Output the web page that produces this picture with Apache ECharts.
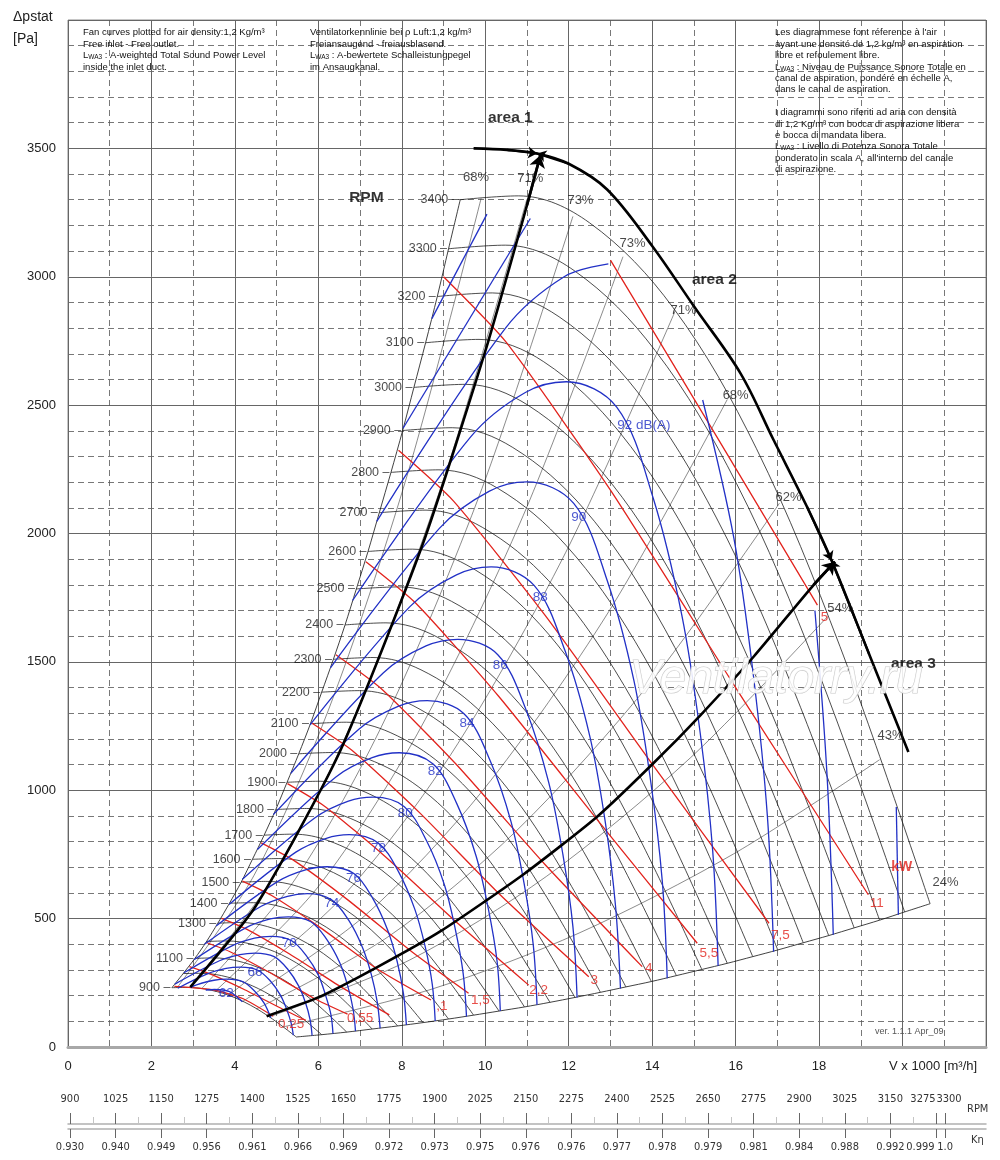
<!DOCTYPE html>
<html><head><meta charset="utf-8">
<script src="https://cdn.jsdelivr.net/npm/echarts@6/dist/echarts.min.js"></script>
<style>html,body{margin:0;padding:0;background:#fff}#c{width:1000px;height:1160px}</style>
</head><body><div id="c"></div>
<script>
// ---------- RPM curves (V x1000 m3/h, Pa) ----------
const rpmValues = [900,1000,1100,1200,1300,1400,1500,1600,1700,1800,1900,2000,2100,2200,2300,2400,2500,2600,2700,2800,2900,3000,3100,3200,3300,3400];
const rpmLabeled = [900,1100,1300,1400,1500,1600,1700,1800,1900,2000,2100,2200,2300,2400,2500,2600,2700,2800,2900,3000,3100,3200,3300,3400];
const rpmCurves = [
[[2.49,231],[2.86,232],[3.31,225],[3.84,202],[4.37,163],[4.90,109],[5.47,39]],
[[2.76,286],[3.18,287],[3.68,278],[4.26,249],[4.85,202],[5.44,135],[6.08,48]],
[[3.04,345],[3.49,347],[4.04,336],[4.69,301],[5.34,244],[5.99,163],[6.68,58]],
[[3.32,411],[3.81,413],[4.41,400],[5.12,359],[5.82,290],[6.53,194],[7.29,70]],
[[3.59,482],[4.13,485],[4.78,469],[5.54,421],[6.31,341],[7.07,228],[7.90,82]],
[[3.87,560],[4.45,562],[5.15,544],[5.97,488],[6.79,395],[7.62,265],[8.51,95]],
[[4.15,642],[4.77,645],[5.52,625],[6.40,561],[7.28,454],[8.16,304],[9.12,109]],
[[4.42,731],[5.08,734],[5.88,711],[6.82,638],[7.77,516],[8.71,346],[9.72,124]],
[[4.70,825],[5.40,829],[6.25,803],[7.25,720],[8.25,583],[9.25,390],[10.33,140]],
[[4.98,925],[5.72,929],[6.62,900],[7.68,807],[8.74,653],[9.79,437],[10.94,156]],
[[5.25,1031],[6.04,1035],[6.99,1002],[8.10,899],[9.22,728],[10.34,487],[11.55,174]],
[[5.53,1142],[6.35,1147],[7.35,1111],[8.53,997],[9.71,806],[10.88,540],[12.15,193]],
[[5.81,1259],[6.67,1265],[7.72,1225],[8.96,1099],[10.19,889],[11.43,595],[12.76,213]],
[[6.08,1382],[6.99,1388],[8.09,1344],[9.38,1206],[10.68,976],[11.97,653],[13.37,234]],
[[6.36,1510],[7.31,1517],[8.46,1469],[9.81,1318],[11.16,1066],[12.52,714],[13.98,255]],
[[6.64,1644],[7.62,1652],[8.82,1599],[10.24,1435],[11.65,1161],[13.06,777],[14.58,278]],
[[6.91,1784],[7.94,1792],[9.19,1736],[10.66,1557],[12.13,1260],[13.60,843],[15.19,302]],
[[7.19,1930],[8.26,1939],[9.56,1877],[11.09,1684],[12.62,1363],[14.15,912],[15.80,326]],
[[7.46,2081],[8.58,2091],[9.93,2024],[11.52,1816],[13.10,1469],[14.69,984],[16.41,352]],
[[7.74,2238],[8.89,2248],[10.29,2177],[11.94,1953],[13.59,1580],[15.24,1058],[17.01,378]],
[[8.02,2401],[9.21,2412],[10.66,2335],[12.37,2095],[14.07,1695],[15.78,1135],[17.62,406]],
[[8.29,2569],[9.53,2581],[11.03,2499],[12.79,2242],[14.56,1814],[16.32,1215],[18.23,434]],
[[8.57,2743],[9.85,2756],[11.40,2669],[13.22,2394],[15.04,1937],[16.87,1297],[18.84,464]],
[[8.85,2923],[10.17,2937],[11.77,2844],[13.65,2551],[15.53,2064],[17.41,1382],[19.45,494]],
[[9.12,3109],[10.48,3123],[12.13,3024],[14.07,2713],[16.02,2195],[17.96,1470],[20.05,526]],
[[9.40,3300],[10.80,3315],[12.50,3210],[14.50,2880],[16.50,2330],[18.50,1560],[20.66,558]]
];

// ---------- efficiency lines ----------
const effLines = [
[[2.62,232],[4.46,669],[6.24,1312],[8.12,2222],[9.90,3305]],
[[2.91,231],[4.95,669],[6.93,1311],[9.02,2221],[11.0,3303]],
[[3.20,227],[5.45,655],[7.62,1284],[9.92,2175],[12.1,3235]],
[[3.52,216],[5.99,623],[8.38,1222],[10.91,2070],[13.3,3078]],
[[3.85,201],[6.55,580],[9.17,1138],[11.93,1927],[14.55,2866]],
[[4.18,177],[7.11,511],[9.95,1001],[12.96,1696],[15.8,2522]],
[[4.51,148],[7.67,429],[10.74,841],[13.98,1424],[17.05,2118]],
[[4.82,117],[8.19,339],[11.47,665],[14.92,1127],[18.2,1676]],
[[5.15,78],[8.75,227],[12.25,444],[15.95,752],[19.45,1119]]
];
const effLabelText = ['68%','71%','73%','73%','71%','68%','62%','54%','43%','24%'];
const effLabelPos = [[9.78,3388],[11.08,3384],[12.28,3298],[13.53,3131],[14.75,2870],[16.0,2539],[17.27,2142],[18.51,1709],[19.71,1215],[21.03,642]];

// ---------- sound power lines dB(A) ----------
const dbLevels = [62,64,66,68,70,72,74,76,78,80,82,84,86,88,90,92,94,96,98];
const dbCurves = [
[[3.30,222],[3.51,224],[3.87,216],[4.12,185],[4.18,176]],
[[2.94,231],[3.08,242],[3.50,260],[3.81,264],[4.20,254],[4.47,218],[4.70,171],[4.86,114]],
[[2.63,229],[3.34,285],[3.79,306],[4.13,311],[4.55,299],[4.85,257],[5.09,202],[5.24,147],[5.35,92],[5.40,46]],
[[2.56,245],[3.63,336],[4.12,360],[4.48,366],[4.94,352],[5.27,302],[5.53,237],[5.69,173],[5.80,108],[5.85,45]],
[[2.78,289],[3.94,395],[4.47,424],[4.87,431],[5.36,414],[5.71,356],[6.00,280],[6.17,203],[6.30,127],[6.35,52]],
[[3.02,340],[4.27,465],[4.85,499],[5.28,507],[5.82,488],[6.20,419],[6.51,329],[6.70,240],[6.83,150],[6.89,62]],
[[3.27,400],[4.63,548],[5.26,587],[5.73,597],[6.31,574],[6.73,493],[7.06,387],[7.27,282],[7.41,176],[7.48,73]],
[[3.55,471],[5.03,645],[5.71,691],[6.21,702],[6.85,676],[7.30,580],[7.66,456],[7.89,332],[8.04,207],[8.11,86]],
[[3.86,555],[5.46,759],[6.19,813],[6.74,827],[7.43,795],[7.92,683],[8.31,537],[8.56,391],[8.73,244],[8.80,101]],
[[4.18,653],[5.92,893],[6.72,958],[7.32,973],[8.06,936],[8.59,804],[9.02,632],[9.28,460],[9.47,287],[9.55,119]],
[[4.54,769],[6.42,1052],[7.29,1127],[7.94,1146],[8.75,1102],[9.32,947],[9.78,744],[10.07,541],[10.28,338],[10.36,140]],
[[4.92,905],[6.97,1238],[7.91,1327],[8.61,1349],[9.49,1298],[10.12,1114],[10.62,876],[10.93,637],[11.15,398],[11.24,164]],
[[5.34,1066],[7.56,1458],[8.58,1562],[9.34,1588],[10.30,1528],[10.98,1312],[11.52,1031],[11.86,750],[12.10,469],[12.20,193]],
[[5.80,1255],[8.20,1716],[9.31,1839],[10.14,1870],[11.17,1798],[11.91,1544],[12.50,1214],[12.87,883],[13.12,552],[13.24,228]],
[[6.29,1477],[8.90,2020],[10.10,2165],[11.00,2201],[12.12,2117],[12.92,1818],[13.56,1429],[13.96,1040],[14.24,650],[14.36,268]],
[[6.82,1739],[9.66,2378],[10.96,2549],[11.94,2591],[13.15,2492],[14.02,2140],[14.71,1682],[15.15,1224],[15.45,765],[15.58,316]],
[[7.40,2047],[10.48,2799],[11.89,3000],[12.95,3050],null,[15.21,2520],[15.96,1980],[16.43,1441],[16.76,901],[16.91,371]],
[[8.03,2410],[11.08,3227],null,[17.90,1700],[18.19,1060],[18.34,437]],
[[8.72,2837],[10.04,3244],null,[19.85,935],[19.90,515]]
];
const dbLabelText = ['62','66','70','74','76','78','80','82','84','86','88','90','92 dB(A)'];
const dbLabelPos = [[3.79,210],[4.48,292],[5.30,405],[6.32,560],[6.84,657],[7.44,774],[8.08,910],[8.80,1072],[9.56,1260],[10.36,1488],[11.32,1752],[12.24,2065],[13.8,2422]];

// ---------- absorbed power lines kW ----------
const kwLevels = [15,11,7.5,5.5,4,3,2.2,1.5,1.1,0.75,0.55,0.37,0.25];
const kwLines = [
[[13.0,3065],[15.5,2390],[17.96,1721]],
[[9.0,3000],[10.5,2745],[13.0,2169],[16.0,1400],[19.18,593]],
[[7.92,2324],[9.24,2126],[11.44,1680],[14.08,1084],[16.8,482]],
[[7.14,1890],[8.33,1729],[10.32,1366],[12.70,882],[15.08,404]],
[[6.42,1528],[7.49,1398],[9.28,1105],[11.42,713],[13.76,313]],
[[5.84,1262],[6.81,1155],[8.43,912],[10.38,589],[12.48,274]],
[[5.26,1026],[6.14,939],[7.60,742],[9.36,479],[11.04,241]],
[[4.63,795],[5.41,727],[6.69,575],[8.24,371],[9.6,209]],
[[4.18,646],[4.87,591],[6.03,467],[7.43,302],[8.7,183]],
[[3.68,501],[4.29,458],[5.31,362],[6.54,234],[7.7,125]],
[[3.32,407],[3.87,372],[4.79,294],[5.89,190],[6.7,128]],
[[2.91,313],[3.39,286],[4.20,226],[5.16,146],[5.7,104]],
[[2.55,236],[3.5,222],[4.2,188],[4.92,120]]
];
const kwLabelText = ['0,25','0,55',',1','1,5','2,2','3','4','5,5','7,5','11','5'];
const kwLabelPos = [[5.35,88],[7.0,112],[8.96,157],[9.88,183],[11.28,222],[12.61,261],[13.92,306],[15.36,365],[17.07,436],[19.38,558],[18.13,1674]];
const kwUnitPos = [[19.98,700]];

// ---------- area boundaries ----------
const area1 = [[2.93,233],[4.5,549],[6.5,1145],[8.5,1958],[10.0,2710],[11.0,3279],[11.32,3473]];
const area2 = [[9.72,3500],[10.52,3494],[11.24,3480],[12.0,3440],[12.92,3340],[14.0,3120],[15.0,2885],[16.12,2623],[16.91,2364],[17.71,2104],[18.3,1895],[19.2,1530],[20.14,1149]];
const area3 = [[4.76,120],[6.04,196],[7.4,310],[8.92,450],[10.92,673],[12.68,897],[14.04,1107],[15.16,1293],[16.43,1520],[17.87,1800],[18.38,1890]];
const areaLabelText = ['area 1','area 2','area 3','RPM'];
const areaLabelPos = [[10.6,3621],[15.49,2987],[20.26,1491],[7.15,3306]];

// ---------- bottom scales ----------
const rpmScale = [900,1025,1150,1275,1400,1525,1650,1775,1900,2025,2150,2275,2400,2525,2650,2775,2900,3025,3150,3275];
const rpmMinor = [962.5,1087.5,1212.5,1337.5,1462.5,1587.5,1712.5,1837.5,1962.5,2087.5,2212.5,2337.5,2462.5,2587.5,2712.5,2837.5,2962.5,3087.5,3212.5];
const kEta = ['0.930','0.940','0.949','0.956','0.961','0.966','0.969','0.972','0.973','0.975','0.976','0.976','0.977','0.978','0.979','0.981','0.984','0.988','0.992','0.999'];
const rpmLast = [3300];
const kEtaLast = ['1.0'];

// ---------- build ----------
const FONT = "'Liberation Sans', Arial, Helvetica, sans-serif";
const NARROW = "'Liberation Sans Narrow','DejaVu Sans Condensed','Liberation Sans',sans-serif";
const BLUE = '#2231c6', RED = '#e2231d';
const series = [];
function addLine(data, color, width, z, smooth) {
  series.push({type:'line', data: data, symbol:'none', showSymbol:false, smooth: smooth,
    lineStyle:{color: color, width: width}, silent:true, animation:false, z: z});
}
function segments(arr) {
  const out = []; let cur = [];
  arr.forEach(p => { if (p === null) { if (cur.length) out.push(cur); cur = []; } else cur.push(p); });
  if (cur.length) out.push(cur);
  return out;
}
function addLabels(texts, pos, color, size, weight, extra) {
  series.push({type:'scatter', symbol:'circle', symbolSize:1, itemStyle:{color:'rgba(0,0,0,0)'},
    silent:true, animation:false, z:20,
    data: pos.map((p,i) => ({value:p, name:texts[i]})),
    label: Object.assign({show:true, position:'inside', formatter:'{b}', color:color, fontSize:size,
      fontWeight: weight || 'normal', fontFamily: FONT}, extra || {})});
}

effLines.forEach(l => addLine(l, '#2a2a2a', 0.55, 2, 0.3));
addLine(rpmCurves.map(c => c[0]), '#111', 0.8, 3, 0.3);
addLine(rpmCurves.map(c => c[c.length-1]), '#111', 0.8, 3, 0.3);
rpmCurves.forEach(c => addLine(c, '#111', 0.75, 3, 0.35));
kwLines.forEach(l => addLine(l, RED, 1.3, 4, 0.2));
dbCurves.forEach(c => segments(c).forEach(s => addLine(s, BLUE, 1.3, 5, 0.35)));
addLine(area1, '#000', 2.6, 6, 0.2);
addLine(area2, '#000', 2.6, 6, 0.35);
addLine(area3, '#000', 2.6, 6, 0.2);
series.push({type:'lines', coordinateSystem:'cartesian2d', symbol:['none','arrow'], symbolSize:12,
  lineStyle:{color:'#000', width:2.6, opacity:1}, silent:true, animation:false, z:7,
  data:[{coords:[area1[area1.length-2], area1[area1.length-1]]},
        {coords:[area3[area3.length-2], area3[area3.length-1]]}]});
series.push({type:'lines', coordinateSystem:'cartesian2d', symbol:['none','arrow'], symbolSize:9,
  lineStyle:{color:'#000', width:2.2, opacity:1}, silent:true, animation:false, z:7,
  data:[{coords:[area2[1], area2[2]]},{coords:[area2[3], area2[2]]},
        {coords:[area2[9], area2[10]]},{coords:[area2[11], area2[10]]}]});

series.push({type:'scatter', symbol:'circle', symbolSize:1, itemStyle:{color:'rgba(0,0,0,0)'},
  silent:true, animation:false, z:20,
  data: rpmLabeled.map(r => ({value: rpmCurves[rpmValues.indexOf(r)][0], name: String(r) + ' \u2013'})),
  label:{show:true, position:'left', distance:1, formatter:'{b}', color:'#1a1a1a', fontSize:12.5, fontFamily:FONT}});
addLabels(effLabelText, effLabelPos, '#1a1a1a', 13);
addLabels(dbLabelText, dbLabelPos, BLUE, 13.5);
addLabels(kwLabelText, kwLabelPos, RED, 13.5);
addLabels(['kW'], kwUnitPos, RED, 14, 'bold');
addLabels(areaLabelText, areaLabelPos, '#000', 15.5, 'bold');

const sub = {s:{fontSize:6.5, padding:[4,0,0,0], fontFamily:FONT, fill:'#111'}};
const txt = (x, y, text, extra) => ({type:'text', x:x, y:y, z:50,
  style:Object.assign({text:text, fontSize:9.5, fontFamily:FONT, fill:'#111', lineHeight:11.4,
    align:'left', verticalAlign:'top', rich:sub}, extra || {})});
const LBL = {fontSize:11, fontFamily:NARROW, color:'#333'};
const shiftRich = {
  l:Object.assign({padding:[0,26,0,0]}, LBL),
  k:Object.assign({padding:[0,31,0,0]}, LBL),
  r:Object.assign({padding:[0,0,0,8]}, LBL)
};
const rpmFmt = v => (v === 3275 ? '{l|3275}' : String(v));
const etaFmt = v => { const i = rpmScale.indexOf(v); if (i < 0) return ''; return v === 3275 ? '{k|' + kEta[i] + '}' : kEta[i]; };
const SMIN = 894.5, SMAX = 3412.3;
const scaleAxis = (offset, extra) => Object.assign({type:'value', min:SMIN, max:SMAX, position:'bottom', offset:offset,
  splitLine:{show:false}, axisPointer:{show:false}}, extra);

const option = {
  backgroundColor:'#fff',
  animation:false,
  grid:{left:68, top:20, width:918, height:1027, show:true, borderColor:'#8c8c8c', borderWidth:1},
  xAxis:[
    {type:'value', min:0, max:22, interval:2,
      axisLine:{show:true, onZero:false, lineStyle:{color:'#a8a8a8', width:3}},
      axisTick:{show:false},
      axisLabel:{formatter: v => (v <= 18 ? String(v) : ''), fontSize:13, color:'#222', margin:13, fontFamily:FONT},
      splitLine:{show:true, lineStyle:{color:'#666', width:1}},
      minorTick:{show:false, splitNumber:2},
      minorSplitLine:{show:true, lineStyle:{color:'#555', width:0.8, type:[6,4]}}},
    scaleAxis(77, {
      axisLine:{show:true, onZero:false, lineStyle:{color:'#b0b0b0', width:1.5}},
      axisTick:{show:true, inside:true, length:11, customValues: rpmScale, lineStyle:{color:'#666', width:1}},
      axisLabel:{show:true, inside:true, margin:19, customValues: rpmScale, formatter: rpmFmt, rich: shiftRich,
        hideOverlap:false, fontSize:11, color:'#333', fontFamily:NARROW}}),
    scaleAxis(77, {
      axisLine:{show:true, onZero:false, lineStyle:{color:'rgba(0,0,0,0)', width:1}},
      axisTick:{show:true, inside:true, length:7, customValues: rpmMinor, lineStyle:{color:'#c4c4c4', width:1}},
      axisLabel:{show:false}}),
    scaleAxis(82, {
      axisLine:{show:true, onZero:false, lineStyle:{color:'#b0b0b0', width:1.5}},
      axisTick:{show:true, inside:false, length:9, customValues: rpmScale, lineStyle:{color:'#666', width:1}},
      axisLabel:{show:true, margin:13, customValues: rpmScale, formatter: etaFmt, rich: shiftRich,
        hideOverlap:false, fontSize:11, color:'#333', fontFamily:NARROW}}),
    scaleAxis(77, {
      axisLine:{show:true, onZero:false, lineStyle:{color:'rgba(0,0,0,0)', width:1}},
      axisTick:{show:true, inside:true, length:11, customValues: rpmLast, lineStyle:{color:'#666', width:1}},
      axisLabel:{show:true, inside:true, margin:19, customValues: rpmLast, formatter: v => '{r|' + v + '}', rich: shiftRich,
        fontSize:11, color:'#333', fontFamily:NARROW}}),
    scaleAxis(82, {
      axisLine:{show:true, onZero:false, lineStyle:{color:'rgba(0,0,0,0)', width:1}},
      axisTick:{show:true, inside:false, length:9, customValues: rpmLast, lineStyle:{color:'#666', width:1}},
      axisLabel:{show:true, margin:13, customValues: rpmLast, formatter: v => kEtaLast[rpmLast.indexOf(v)] || '',
        fontSize:11, color:'#333', fontFamily:NARROW}})
  ],
  yAxis:{type:'value', min:0, max:4000, interval:500,
    axisLine:{show:false}, axisTick:{show:false},
    axisLabel:{formatter: v => (v < 4000 ? String(v) : ''), fontSize:13, color:'#222', margin:12, fontFamily:FONT},
    splitLine:{show:true, lineStyle:{color:'#666', width:1}},
    minorTick:{show:false, splitNumber:5},
    minorSplitLine:{show:true, lineStyle:{color:'#555', width:0.8, type:[6,4]}}},
  graphic:[
    {type:'text', x:13, y:10, z:50, style:{text:'\u0394pstat', fontSize:14, fontFamily:FONT, fill:'#222', align:'left', verticalAlign:'top'}},
    {type:'text', x:13, y:32, z:50, style:{text:'[Pa]', fontSize:14, fontFamily:FONT, fill:'#222', align:'left', verticalAlign:'top'}},
    txt(83, 27, 'Fan curves plotted for air density:1,2 Kg/m\u00b3\nFree inlet - Free outlet.\nL{s|WA3} : A-weighted Total Sound Power Level\ninside the inlet duct.'),
    txt(310, 27, 'Ventilatorkennlinie bei \u03c1 Luft:1,2 kg/m\u00b3\nFreiansaugend - freiausblasend.\nL{s|WA3} : A-bewertete Schalleistungpegel\nim Ansaugkanal.'),
    txt(775, 27, "Les diagrammese font r\u00e9ference \u00e0 l'air\nayant une densit\u00e9 de 1,2 kg/m\u00b3 en aspiration\nlibre et refoulement libre.\nL{s|WA3} : Niveau de Puissance Sonore Totale en\ncanal de aspiration, pond\u00e9r\u00e9 en \u00e9chelle A,\ndans le canal de aspiration.\n \nI diagrammi sono riferiti ad aria con densit\u00e0\ndi 1,2 Kg/m\u00b3 con bocca di aspirazione libera\ne bocca di mandata libera.\nL{s|WA3} : Livello di Potenza Sonora Totale\nponderato in scala A, all'interno del canale\ndi aspirazione."),
    {type:'text', x:776, y:680, z:60, style:{text:'Ventilatorry.ru', fontSize:48, fontStyle:'italic', fontFamily:FONT,
      fill:'rgba(255,255,255,0.88)', stroke:'#cacaca', lineWidth:1.2, align:'center', verticalAlign:'middle'}},
    {type:'text', x:875, y:1027, z:50, style:{text:'ver. 1.1.1 Apr_09', fontSize:9, fontFamily:FONT, fill:'#555', align:'left', verticalAlign:'top'}},
    {type:'text', x:889, y:1060, z:50, style:{text:'V x 1000 [m\u00b3/h]', fontSize:13, fontFamily:FONT, fill:'#222', align:'left', verticalAlign:'top'}},
    {type:'text', x:967, y:1104, z:50, style:{text:'RPM', fontSize:11, fontFamily:NARROW, fill:'#333', align:'left', verticalAlign:'top'}},
    {type:'text', x:971, y:1135, z:50, style:{text:'K\u03b7', fontSize:11, fontFamily:NARROW, fill:'#333', align:'left', verticalAlign:'top'}}
  ],
  series: series
};
const chart = echarts.init(document.getElementById('c'), null, {renderer:'canvas'});
chart.setOption(option);
</script>
</body></html>
